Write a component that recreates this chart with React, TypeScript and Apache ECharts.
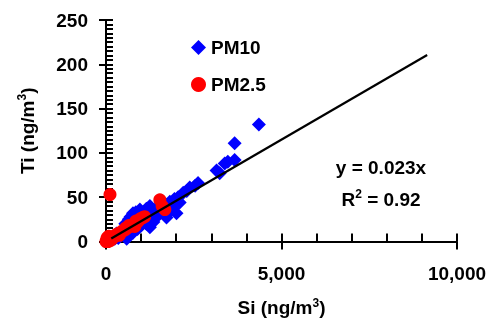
import React, { useEffect, useRef } from "react";
import * as echarts from "echarts";

const pm10Si = [4355, 3665, 3665, 3470, 3381, 3239, 3150, 2622, 2540, 2386, 2300, 2200, 2055, 1950, 1818, 1700, 1600, 2008, 1900, 1724, 1800, 1500, 1400, 1250, 1150, 1100, 966, 900, 850, 770, 700, 650, 1250, 1350, 1150, 1000, 900, 770, 650, 590, 500, 450, 400, 350, 300, 250, 200, 150, 100, 1200, 1050, 1400, 1600, 1300, 1450, 1750, 2100, 550, 800];
const pm10Ti = [132, 111, 92, 90, 88, 77, 80, 66, 63, 61, 57, 55, 50, 48, 45, 42, 40, 32, 37, 27, 33, 38, 36, 40, 37, 32, 36, 30, 33, 32, 28, 25, 16, 22, 20, 18, 14, 10, 12, 3, 8, 11, 6, 4, 9, 3, 5, 2, 1, 28, 24, 30, 34, 34, 28, 36, 44, 20, 24];
const pm25Si = [114, 1534, 1676, 1600, 1050, 1000, 966, 900, 850, 770, 700, 650, 600, 540, 480, 400, 350, 300, 250, 200, 150, 100, 50, 20, 30, 80, 0, 60, 120, 1100, 820, 560, 380, 180];
const pm25Ti = [53, 47, 36, 40, 27, 26, 25, 22, 23, 19, 17, 18, 15, 13, 12, 10, 9, 8, 6, 5, 4, 3, 2, 1, 4, 6, 0, 0, 1, 28, 17, 15, 7, 3];
const fitSlope = 0.023;
const fitRange = [150, 9150];
const eqText = "y = 0.023x";
const r2Value = "0.92";

const FONT = "'Liberation Sans', Arial, sans-serif";

export default function App() {
  const ref = useRef<HTMLDivElement>(null);
  useEffect(() => {
    if (!ref.current) return;
    const chart = echarts.init(ref.current, null, { renderer: "svg" });
    const pm10 = pm10Si.map((x, i) => [x, pm10Ti[i]]);
    const pm25 = pm25Si.map((x, i) => [x, pm25Ti[i]]);
    const fit = fitRange.map((x) => [x, x * fitSlope]);
    const base = { fontFamily: FONT, fontWeight: "bold" as const, fontSize: 19, color: "#000" };
    const rich = {
      a: { ...base },
      s: { fontFamily: FONT, fontWeight: "bold" as const, fontSize: 12, color: "#000", padding: [0, 0, 10, 0] },
    };
    const tickStyle = (w: number) => ({ color: "#000", width: w });
    chart.setOption({
      animation: false,
      grid: { left: 106, right: 34, top: 20, bottom: 80 },
      legend: {
        orient: "vertical",
        left: 186,
        top: 33,
        itemGap: 18,
        itemWidth: 15,
        itemHeight: 15,
        data: ["PM10", "PM2.5"],
        textStyle: { ...base, padding: [0, 0, 0, 0] },
      },
      xAxis: [
        {
          type: "value", min: 0, max: 10000, interval: 5000, position: "bottom",
          axisLine: { show: true, onZero: false, lineStyle: tickStyle(2) },
          axisTick: { show: true, inside: false, length: 8, lineStyle: tickStyle(2) },
          splitLine: { show: false },
          axisLabel: { ...base, margin: 22, formatter: (v: number) => v.toLocaleString("en-US") },
          name: "{a|Si (ng/m}{s|3}{a|)}",
          nameLocation: "middle",
          nameGap: 55,
          nameTextStyle: { rich },
        },
        {
          type: "value", min: 0, max: 10000, interval: 1000, position: "bottom", offset: 0,
          axisLine: { show: false, onZero: false },
          axisTick: { show: true, inside: true, length: 8, lineStyle: tickStyle(2) },
          splitLine: { show: false },
          axisLabel: { show: false },
        },
      ],
      yAxis: [
        {
          type: "value", min: 0, max: 250, interval: 50, position: "left",
          axisLine: { show: true, onZero: false, lineStyle: tickStyle(2) },
          axisTick: { show: true, inside: false, length: 7, lineStyle: tickStyle(2) },
          splitLine: { show: false },
          axisLabel: { ...base, margin: 18 },
          name: "{a|Ti (ng/m}{s|3}{a|)}",
          nameLocation: "middle",
          nameGap: 68,
          nameRotate: 90,
          nameTextStyle: { rich },
        },
        {
          type: "value", min: 0, max: 250, interval: 5, position: "left", offset: 0,
          axisLine: { show: false, onZero: false },
          axisTick: { show: true, inside: true, length: 7, lineStyle: tickStyle(2) },
          splitLine: { show: false },
          axisLabel: { show: false },
        },
      ],
      series: [
        {
          name: "PM10", type: "scatter", data: pm10, symbol: "diamond", symbolSize: 14,
          itemStyle: { color: "#0000ff", opacity: 1 },
        },
        {
          name: "PM2.5", type: "scatter", data: pm25, symbol: "circle", symbolSize: 13,
          itemStyle: { color: "#ff0000", opacity: 1 },
        },
        {
          name: "fit", type: "line", data: fit, symbol: "none",
          lineStyle: { color: "#000", width: 2.2 }, z: 5,
        },
      ],
      graphic: [
        {
          type: "text", x: 381, y: 167,
          style: { text: eqText, ...base, fill: "#000", align: "center", verticalAlign: "middle" },
        },
        {
          type: "text", x: 381, y: 199,
          style: {
            text: `{a|R}{s|2}{a| = ${r2Value}}`,
            align: "center", verticalAlign: "middle",
            rich,
          },
        },
      ],
    });
    return () => chart.dispose();
  }, []);
  return <div ref={ref} style={{ position: "fixed", left: 0, top: 0, width: 491, height: 322 }} />;
}
